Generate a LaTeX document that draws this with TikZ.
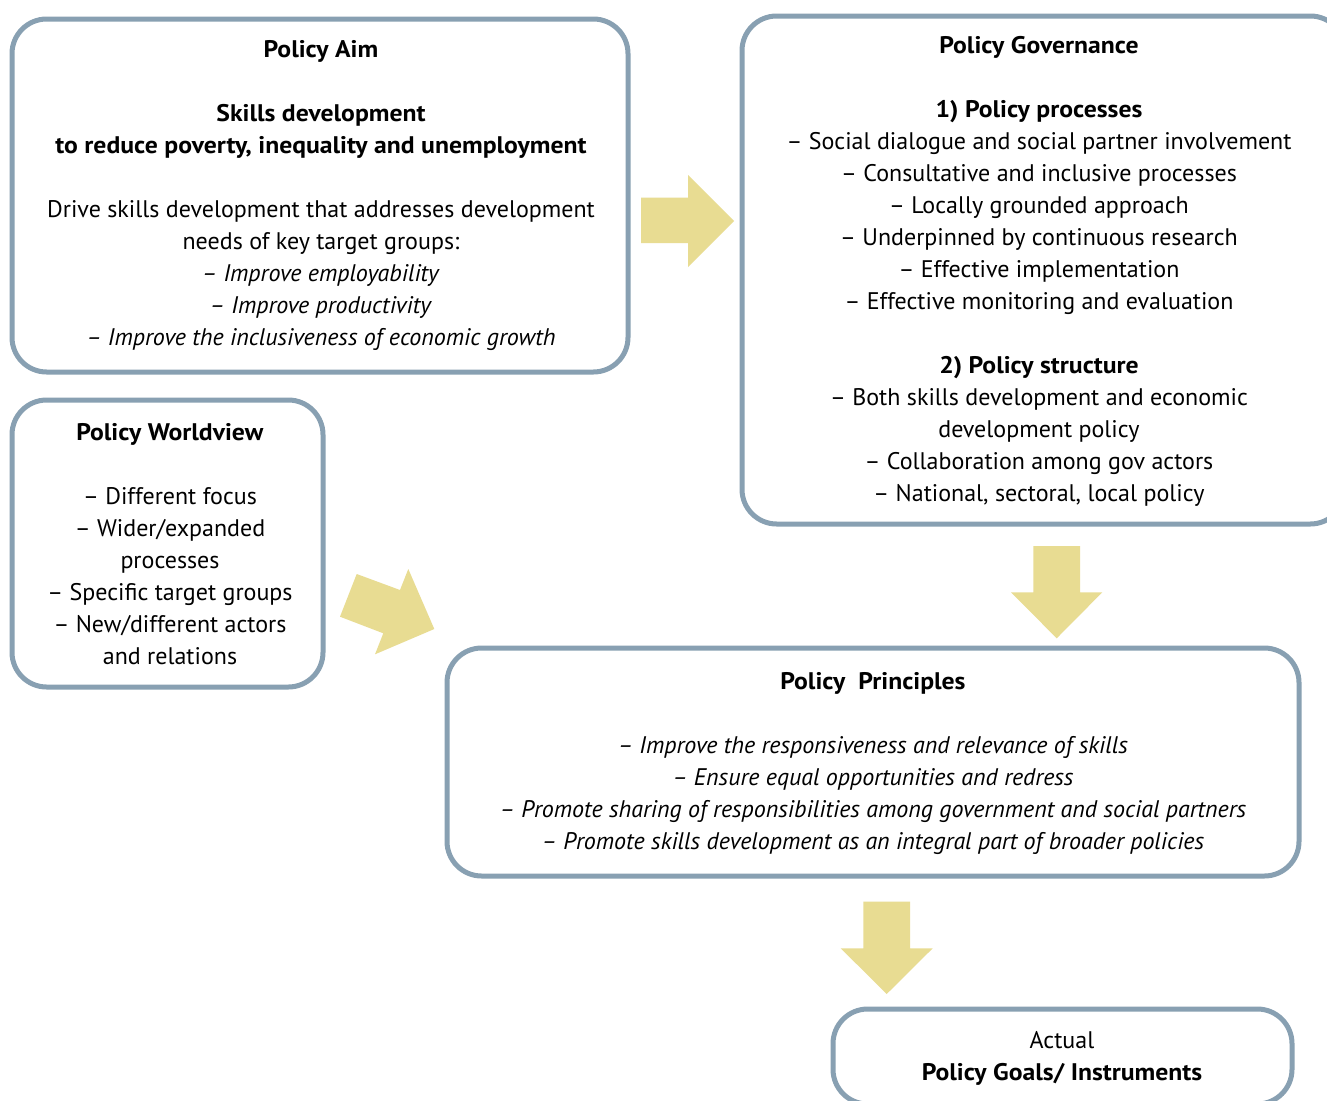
\documentclass[tikz,border=0pt]{standalone}
\usepackage{fontspec}
\setmainfont{PT Sans}[BoldFeatures={FakeStretch=1.07}]
\definecolor{boxline}{RGB}{136,160,178}
\definecolor{arrowfill}{RGB}{232,220,146}
\begin{document}
\begin{tikzpicture}[x=0.75pt,y=-0.75pt,
  box/.style={draw=boxline,line width=3.75pt,rounded corners=26pt,rectangle,inner sep=0pt,outer sep=0pt},
  txt/.style={font=\fontsize{18}{24}\selectfont,align=center,anchor=north,inner sep=0pt},
  blockarrow/.style={fill=arrowfill,draw=none}]
\clip (0,0) rectangle (1327,1100);
\fill[white] (0,0) rectangle (1327,1100);
% boxes
\node[box,minimum width=462pt,minimum height=264.75pt] (aim) at (320,195.5) {};
\node[box,minimum width=452.25pt,minimum height=381pt] (gov) at (1043.5,270) {};
\node[box,minimum width=233.25pt,minimum height=215.25pt] (world) at (167.5,543.5) {};
\node[box,minimum width=639pt,minimum height=171pt] (prin) at (873,762) {};
\node[box,minimum width=344.25pt,minimum height=71.25pt] (goals) at (1062.5,1056.5) {};
% texts
\node[txt] (aimtxt) at (321,37) {\rule{0pt}{15pt}\textbf{Policy Aim}\\[24pt]
\textbf{Skills development}\\
\textbf{to reduce poverty, inequality and unemployment}\\[24pt]
Drive skills development that addresses development\\
needs of key target groups:\\
\textit{– Improve employability}\\
\textit{– Improve productivity}\\
\textit{– Improve the inclusiveness of economic growth}};
\node[txt] (govtxt) at (1039,33) {\rule{0pt}{15pt}\textbf{Policy Governance}\\[24pt]
\textbf{1) Policy processes}\\
– Social dialogue and social partner involvement\\
– Consultative and inclusive processes\\
– Locally grounded approach\\
– Underpinned by continuous research\\
– Effective implementation\\
– Effective monitoring and evaluation\\[24pt]
\textbf{2) Policy structure}\\
– Both skills development and economic\\
development policy\\
– Collaboration among gov actors\\
– National, sectoral, local policy};
\node[txt] (worldtxt) at (170,420) {\rule{0pt}{15pt}\textbf{Policy Worldview}\\[24pt]
– Different focus\\
– Wider/expanded\\
processes\\
– Specific target groups\\
– New/different actors\\
and relations};
\node[txt] (printxt) at (873,669) {\rule{0pt}{15pt}\textbf{Policy~~Principles}\\[24pt]
\textit{– Improve the responsiveness and relevance of skills}\\
\textit{– Ensure equal opportunities and redress}\\
\textit{– Promote sharing of responsibilities among government and social partners}\\
\textit{– Promote skills development as an integral part of broader policies}};
\node[txt] (goalstxt) at (1062,1028) {\rule{0pt}{15pt}Actual\\
\textbf{Policy Goals/ Instruments}};
% block arrows
\fill[blockarrow] (641,197.5) -- (688,197.5) -- (688,175) -- (734,221) -- (688,267) -- (688,243) -- (641,243) -- cycle;
\fill[blockarrow] (356.7,574) -- (400,590) -- (408.3,569) -- (434.3,629) -- (375,654.3) -- (383.3,633.3) -- (340,616.7) -- cycle;
\fill[blockarrow] (1033.3,546) -- (1080,546) -- (1080,592.3) -- (1102.3,592.3) -- (1056.7,638.3) -- (1011,592.3) -- (1033.3,592.3) -- cycle;
\fill[blockarrow] (863.3,901.7) -- (910,901.7) -- (910,948.3) -- (932.7,948.3) -- (886.7,994) -- (840.7,948.3) -- (863.3,948.3) -- cycle;
\end{tikzpicture}
\end{document}
